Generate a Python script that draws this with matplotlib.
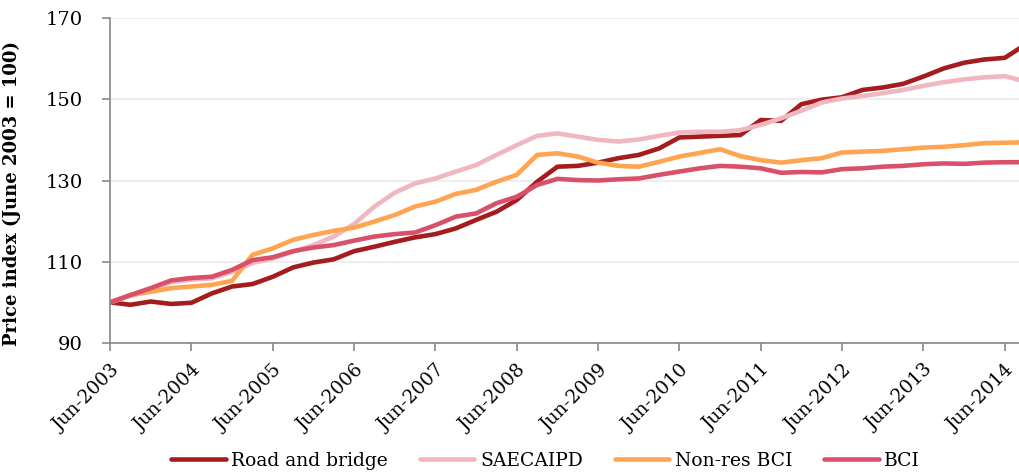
import matplotlib
matplotlib.use("Agg")
import matplotlib.pyplot as plt
import numpy as np

# quarterly, Jun-2003 .. Sep-2014
quarters = np.arange(46)
year_ticks = ['Jun-2003', 'Jun-2004', 'Jun-2005', 'Jun-2006', 'Jun-2007', 'Jun-2008',
              'Jun-2009', 'Jun-2010', 'Jun-2011', 'Jun-2012', 'Jun-2013', 'Jun-2014']

road_bridge = [100, 99.4, 100.2, 99.6, 99.9, 102.2, 103.9, 104.5, 106.3, 108.6,
               109.8, 110.6, 112.6, 113.7, 114.9, 116.0, 116.8, 118.2, 120.3, 122.3,
               125.2, 129.7, 133.4, 133.6, 134.4, 135.5, 136.3, 137.9, 140.6, 140.8,
               141.0, 141.2, 144.9, 144.7, 148.8, 149.9, 150.5, 152.3, 152.9, 153.8,
               155.6, 157.6, 159.0, 159.8, 160.2, 163.4]
saecaipd = [100, 101.6, 103.0, 105.0, 105.6, 105.9, 107.5, 109.7, 110.8, 112.5,
            114.1, 116.2, 119.3, 123.6, 127.0, 129.3, 130.5, 132.2, 133.8, 136.3,
            138.7, 141.0, 141.6, 140.8, 140.0, 139.6, 140.1, 141.0, 141.8, 142.0,
            142.0, 142.4, 143.7, 145.3, 147.2, 149.2, 150.2, 150.8, 151.5, 152.3,
            153.3, 154.2, 154.9, 155.4, 155.7, 154.4]
nonres_bci = [100, 101.8, 102.6, 103.5, 103.9, 104.3, 105.3, 111.7, 113.3, 115.4,
              116.6, 117.6, 118.4, 119.9, 121.5, 123.6, 124.8, 126.7, 127.7, 129.7,
              131.4, 136.3, 136.7, 135.9, 134.4, 133.6, 133.4, 134.6, 135.9, 136.8,
              137.7, 136.0, 135.0, 134.4, 135.0, 135.5, 136.9, 137.1, 137.3, 137.7,
              138.1, 138.3, 138.7, 139.2, 139.3, 139.4]
bci = [100, 101.8, 103.5, 105.4, 106.0, 106.3, 108.0, 110.4, 111.1, 112.6,
       113.5, 114.1, 115.2, 116.2, 116.8, 117.2, 119.0, 121.1, 121.9, 124.4,
       126.0, 128.9, 130.4, 130.1, 130.0, 130.3, 130.5, 131.4, 132.2, 133.0,
       133.6, 133.4, 133.0, 131.9, 132.1, 132.0, 132.8, 133.0, 133.4, 133.6,
       134.0, 134.2, 134.1, 134.4, 134.5, 134.5]

plt.rcParams['font.family'] = ['DejaVu Serif']

fig = plt.figure(figsize=(10.2, 4.75), dpi=100)
ax = fig.add_axes([0.108, 0.278, 0.892, 0.684])

lw = 3.3
ax.plot(quarters, road_bridge, color='#a51c1e', lw=lw, label='Road and bridge', solid_capstyle='round')
ax.plot(quarters, saecaipd, color='#f0b7c1', lw=lw, label='SAECAIPD', solid_capstyle='round')
ax.plot(quarters, nonres_bci, color='#ffa552', lw=lw, label='Non-res BCI', solid_capstyle='round')
ax.plot(quarters, bci, color='#d9506a', lw=lw, label='BCI', solid_capstyle='round')

ax.set_xlim(0, 44.75)
ax.set_ylim(90, 170)
ax.set_yticks([90, 110, 130, 150, 170])
ax.set_xticks(np.arange(0, 45, 4))
ax.set_xticklabels(year_ticks, rotation=45, ha='right', rotation_mode='anchor')
ax.tick_params(axis='both', colors='#888888', labelcolor='black', length=6, width=1.2)
ax.tick_params(axis='y', labelsize=14, pad=14)
ax.tick_params(axis='x', labelsize=13.5, pad=7)
ax.grid(axis='y', color='#eeeeee', lw=1.5)
ax.set_axisbelow(True)
for s in ['top', 'right']:
    ax.spines[s].set_visible(False)
for s in ['left', 'bottom']:
    ax.spines[s].set_color('#888888')
    ax.spines[s].set_linewidth(1.2)

ax.set_ylabel('Price index (June 2003 = 100)', fontsize=13, fontweight='bold')
ax.yaxis.set_label_coords(-0.098, 0.46)

fig.legend(loc='lower center', bbox_to_anchor=(0.535, -0.025), ncol=4, frameon=False,
           fontsize=13.5, handlelength=2.9, columnspacing=1.7, handletextpad=0.3)

fig.savefig('out.png', dpi=100)
